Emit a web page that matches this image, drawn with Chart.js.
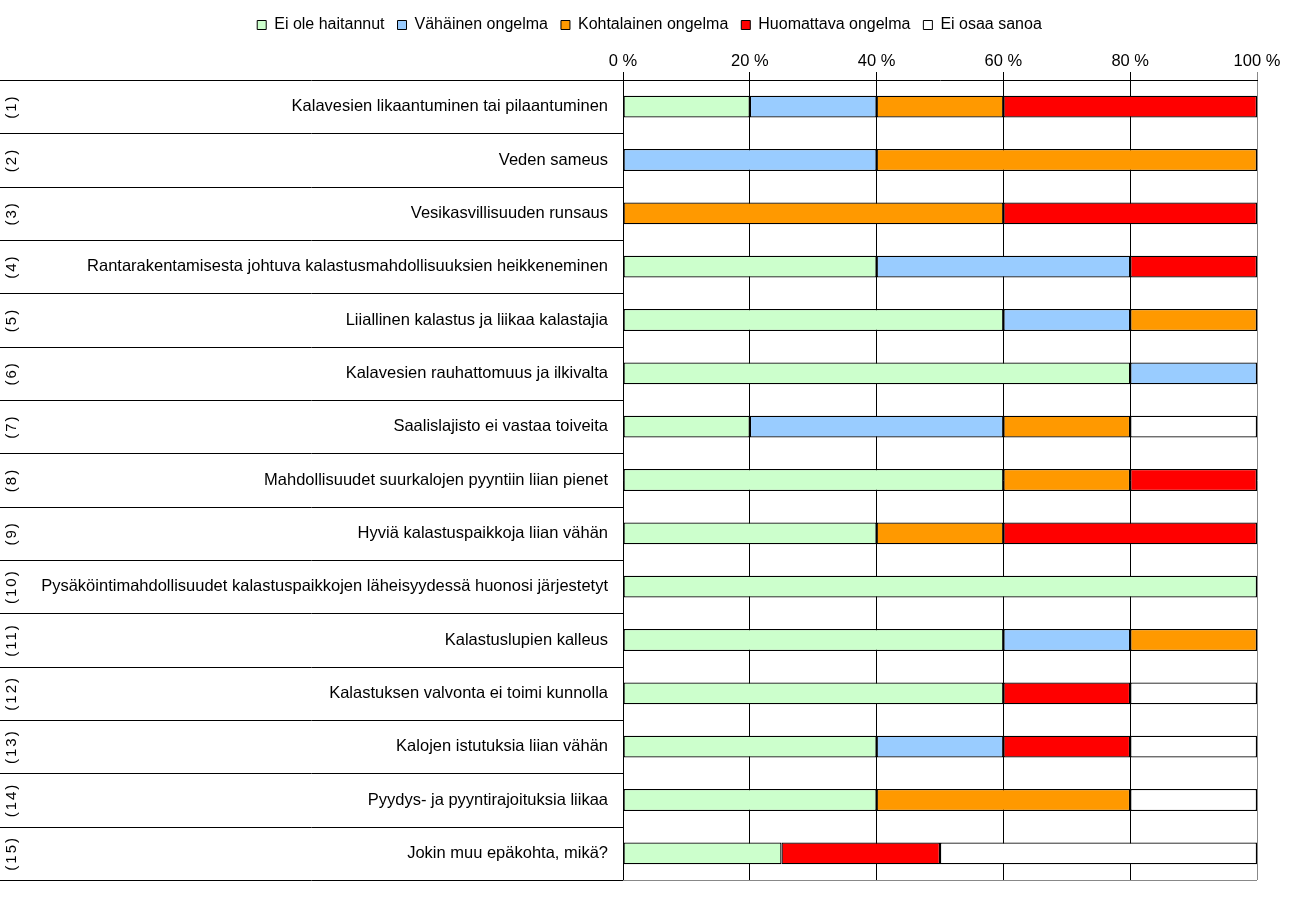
<!DOCTYPE html>
<html>
<head>
<meta charset="utf-8">
<script src="https://cdn.jsdelivr.net/npm/chart.js@4.4.1/dist/chart.umd.min.js"></script>
<style>
  html, body { margin: 0; padding: 0; background: #fff; }
  #wrap { width: 1291px; height: 899px; }
</style>
</head>
<body>
<div id="wrap"><canvas id="chartProblems"></canvas></div>
<script>
const categories = [
  "Kalavesien likaantuminen tai pilaantuminen",
  "Veden sameus",
  "Vesikasvillisuuden runsaus",
  "Rantarakentamisesta johtuva kalastusmahdollisuuksien heikkeneminen",
  "Liiallinen kalastus ja liikaa kalastajia",
  "Kalavesien rauhattomuus ja ilkivalta",
  "Saalislajisto ei vastaa toiveita",
  "Mahdollisuudet suurkalojen pyyntiin liian pienet",
  "Hyviä kalastuspaikkoja liian vähän",
  "Pysäköintimahdollisuudet kalastuspaikkojen läheisyydessä huonosi järjestetyt",
  "Kalastuslupien kalleus",
  "Kalastuksen valvonta ei toimi kunnolla",
  "Kalojen istutuksia liian vähän",
  "Pyydys- ja pyyntirajoituksia liikaa",
  "Jokin muu epäkohta, mikä?",
];
const rowNumbers = categories.map((_, i) => "(" + (i + 1) + ")");

const seriesNames = ["Ei ole haitannut", "Vähäinen ongelma", "Kohtalainen ongelma", "Huomattava ongelma", "Ei osaa sanoa"];
const seriesColors = ["#ccffcc", "#99ccff", "#ff9900", "#ff0000", "#ffffff"];

const eiHaitannut = [20, 0, 0, 40, 60, 80, 20, 60, 40, 100, 60, 60, 40, 40, 25];
const vahainen    = [20, 40, 0, 40, 20, 20, 40, 0, 0, 0, 20, 0, 20, 0, 0];
const kohtalainen = [20, 60, 60, 0, 20, 0, 20, 20, 20, 0, 20, 0, 0, 40, 0];
const huomattava  = [40, 0, 40, 20, 0, 0, 0, 20, 40, 0, 0, 20, 20, 0, 25];
const eiOsaa      = [0, 0, 0, 0, 0, 0, 20, 0, 0, 0, 0, 20, 20, 20, 50];

const tickLabels = ["0 %", "20 %", "40 %", "60 %", "80 %", "100 %"];

const FONT = "'Liberation Sans', Arial, sans-serif";
const PAD_LEFT = 8;
const PLOT_LEFT = 623;

// separators + row numbers on the left, grey frame at the bottom
const rowFrame = {
  id: "rowFrame",
  afterDraw(chart) {
    const { ctx, chartArea, scales } = chart;
    const y = scales.y;
    const n = categories.length;
    const step = (chartArea.bottom - chartArea.top) / n;
    ctx.save();
    ctx.strokeStyle = "#000";
    ctx.lineWidth = 1;
    for (let i = 0; i <= n; i++) {
      const yy = Math.round(y.getPixelForValue(i) - step / 2) + 0.5;
      ctx.beginPath();
      ctx.moveTo(0, yy);
      ctx.lineTo(chartArea.left, yy);
      ctx.stroke();
    }
    ctx.strokeStyle = "#888";
    ctx.beginPath();
    ctx.moveTo(chartArea.left, Math.round(chartArea.bottom) + 0.5);
    ctx.lineTo(chartArea.right, Math.round(chartArea.bottom) + 0.5);
    ctx.stroke();

    ctx.fillStyle = "#000";
    ctx.font = "15px " + FONT;
    ctx.textAlign = "center";
    ctx.textBaseline = "middle";
    ctx.letterSpacing = "2px";
    rowNumbers.forEach((t, i) => {
      ctx.save();
      ctx.translate(12, y.getPixelForValue(i));
      ctx.rotate(-Math.PI / 2);
      ctx.fillText(t, 0, 0);
      ctx.restore();
    });
    ctx.restore();
  },
};

const datasets = [eiHaitannut, vahainen, kohtalainen, huomattava, eiOsaa].map((data, i) => ({
  label: seriesNames[i],
  data,
  backgroundColor: seriesColors[i],
  borderColor: "#000",
  borderWidth: 1.3,
  borderSkipped: false,
  barPercentage: 0.41,
  categoryPercentage: 1,
}));

new Chart(document.getElementById("chartProblems").getContext("2d"), {
  type: "bar",
  data: { labels: categories, datasets },
  plugins: [rowFrame],
  options: {
    indexAxis: "y",
    responsive: true,
    maintainAspectRatio: false,
    animation: false,
    layout: { padding: { left: PAD_LEFT, right: 0, top: 4, bottom: 19 } },
    plugins: {
      tooltip: { enabled: false },
      legend: {
        position: "top",
        labels: {
          color: "#000",
          font: { family: FONT, size: 16 },
          boxWidth: 9,
          boxHeight: 9,
          padding: 13,
          generateLabels(chart) {
            return chart.data.datasets.map((ds, i) => ({
              text: ds.label,
              fillStyle: ds.backgroundColor,
              strokeStyle: "#000",
              lineWidth: 1,
              datasetIndex: i,
            }));
          },
        },
      },
    },
    scales: {
      x: {
        position: "top",
        stacked: true,
        min: 0,
        max: 100,
        ticks: {
          stepSize: 20,
          color: "#000",
          font: { family: FONT, size: 16.5 },
          padding: 1,
          callback: (v) => tickLabels[v / 20],
        },
        grid: {
          color: (c) => (c.tick && c.tick.value === 100 ? "#888" : "#000"),
          lineWidth: 1,
          tickLength: 8,
        },
        border: { color: "#000" },
        afterFit(scale) {
          scale.height = 37;
          scale.paddingRight = 34;
        },
      },
      y: {
        stacked: true,
        ticks: {
          color: "#000",
          font: { family: FONT, size: 16.5 },
          padding: 15,
          autoSkip: false,
        },
        grid: { display: false, drawTicks: false },
        border: { color: "#000" },
        afterFit(scale) {
          scale.width = PLOT_LEFT - PAD_LEFT;
          scale.paddingTop = 0;
          scale.paddingBottom = 0;
        },
      },
    },
  },
});
</script>
</body>
</html>
